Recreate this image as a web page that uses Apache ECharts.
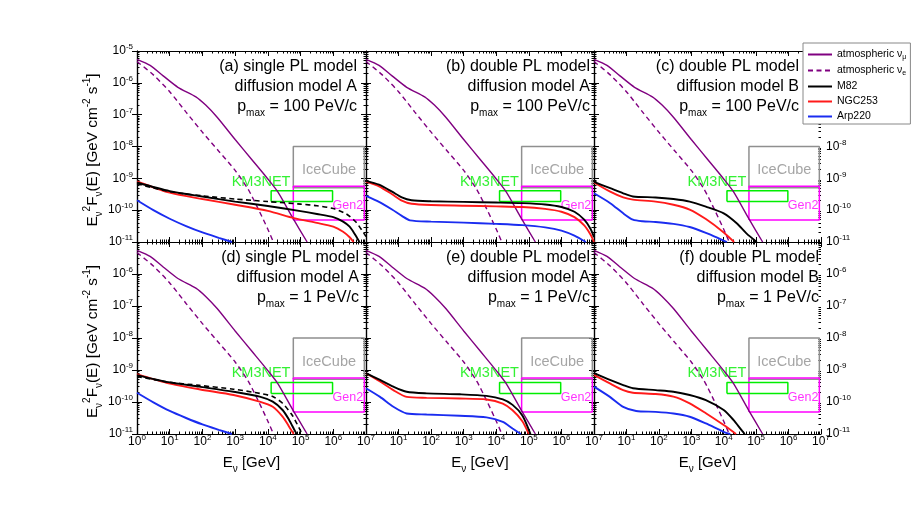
<!DOCTYPE html>
<html><head><meta charset="utf-8">
<script src="https://cdn.jsdelivr.net/npm/echarts@6/dist/echarts.min.js"></script>
<style>html,body{margin:0;padding:0;background:#fff}#c{width:913px;height:512px}</style>
</head><body><div id="c"></div>
<script>
const FF = '"Liberation Sans", Arial, Helvetica, sans-serif';

// ---- values: [log10(E / GeV), log10(E^2 F / GeV cm^-2 s^-1)] ----
const atmNuMu = [[0,-5.26],[0.4,-5.45],[0.8,-5.78],[1.25,-6.14],[1.8,-6.44],[2.1,-6.7],[2.45,-7.08],[3.0,-7.78],[3.5,-8.40],[4.0,-9.02],[4.3,-9.42],[4.77,-10.26],[5.2,-11.0]];
const atmNuE  = [[0,-5.33],[0.5,-5.75],[1.0,-6.28],[1.5,-6.92],[2.0,-7.55],[2.5,-8.15],[3.0,-8.75],[3.4,-9.35],[3.7,-9.95],[4.0,-10.6],[4.17,-11.0]];

// (a) single PL, diffusion A, pmax 100 PeV/c
const m82A    = [[0,-9.13],[1,-9.40],[2,-9.57],[3,-9.73],[4,-9.87],[5,-10.03],[5.5,-10.12],[6,-10.22],[6.3,-10.36],[6.5,-10.52],[6.65,-10.74],[6.8,-11.0]];
const m82dashA= [[0,-9.17],[1,-9.42],[2,-9.55],[3,-9.65],[4,-9.73],[5,-9.81],[5.5,-9.86],[6,-9.95],[6.4,-10.12],[6.7,-10.38],[7,-10.83]];
const ngcA    = [[0,-9.10],[1,-9.45],[2,-9.65],[3,-9.83],[4,-10.02],[4.8,-10.25],[5.5,-10.40],[6,-10.52],[6.3,-10.68],[6.5,-10.85],[6.62,-11.0]];
const arpA    = [[0,-9.69],[0.5,-10.0],[1,-10.27],[1.5,-10.5],[2,-10.7],[2.5,-10.87],[2.9,-11.0]];
// (b) double PL, diffusion A, pmax 100 PeV/c
const m82B = [[0,-9.08],[0.4,-9.2],[0.8,-9.42],[1.1,-9.6],[1.4,-9.69],[2,-9.72],[3,-9.74],[4,-9.76],[4.8,-9.78],[5.5,-9.82],[6,-9.9],[6.4,-10.05],[6.7,-10.3],[6.9,-10.6],[7,-10.85]];
const ngcB = [[0,-9.1],[0.4,-9.25],[0.8,-9.5],[1.1,-9.7],[1.4,-9.8],[2,-9.84],[3,-9.86],[4,-9.88],[4.8,-9.9],[5.5,-9.96],[6,-10.05],[6.4,-10.22],[6.7,-10.48],[6.9,-10.78],[7,-11.0]];
const arpB = [[0,-9.55],[0.4,-9.74],[0.8,-9.98],[1.1,-10.18],[1.35,-10.32],[2,-10.36],[3,-10.39],[4,-10.43],[4.8,-10.47],[5.5,-10.54],[6,-10.64],[6.4,-10.8],[6.75,-11.0]];
// (c) double PL, diffusion B, pmax 100 PeV/c
const m82C = [[0,-9.11],[0.5,-9.31],[0.9,-9.47],[1.2,-9.57],[1.9,-9.6],[2.45,-9.65],[2.95,-9.73],[3.45,-9.89],[4.0,-10.1],[4.4,-10.41],[4.7,-10.73],[5.02,-11.0]];
const ngcC = [[0,-9.13],[0.5,-9.42],[0.9,-9.6],[1.2,-9.67],[1.9,-9.73],[2.45,-9.83],[2.95,-9.98],[3.45,-10.28],[4.0,-10.7],[4.32,-11.0]];
const arpC = [[0,-9.47],[0.5,-9.78],[0.9,-10.1],[1.2,-10.3],[1.5,-10.35],[1.9,-10.37],[2.45,-10.43],[2.95,-10.53],[3.45,-10.71],[3.8,-10.86],[4.1,-11.0]];
// (d) single PL, diffusion A, pmax 1 PeV/c
const m82D    = [[0,-9.16],[0.9,-9.37],[1.9,-9.52],[2.95,-9.68],[3.75,-9.83],[4.15,-9.99],[4.45,-10.25],[4.65,-10.56],[4.8,-10.85],[4.88,-11.0]];
const m82dashD= [[0,-9.2],[0.9,-9.37],[1.9,-9.48],[2.95,-9.6],[3.75,-9.73],[4.15,-9.83],[4.45,-10.04],[4.75,-10.42],[4.95,-10.8],[5.05,-11.0]];
const ngcD    = [[0,-9.13],[0.9,-9.4],[1.9,-9.6],[2.95,-9.78],[3.75,-9.99],[4.15,-10.15],[4.45,-10.46],[4.65,-10.77],[4.79,-11.0]];
const arpD    = [[0,-9.71],[0.5,-10.01],[1,-10.28],[1.5,-10.5],[2,-10.7],[2.5,-10.87],[2.9,-11.0]];
// (e) double PL, diffusion A, pmax 1 PeV/c
const m82E = [[0,-9.10],[0.43,-9.31],[0.84,-9.52],[1.25,-9.68],[1.86,-9.73],[2.88,-9.76],[3.7,-9.81],[4.2,-9.92],[4.5,-10.09],[4.8,-10.42],[5.05,-11.0]];
const ngcE = [[0,-9.1],[0.43,-9.36],[0.84,-9.63],[1.25,-9.84],[1.86,-9.87],[2.88,-9.89],[3.7,-9.92],[4.2,-10.05],[4.5,-10.26],[4.8,-10.6],[5.0,-11.0]];
const arpE = [[0,-9.57],[0.43,-9.84],[0.84,-10.15],[1.25,-10.36],[1.86,-10.39],[2.88,-10.43],[3.7,-10.48],[4.2,-10.62],[4.5,-10.83],[4.75,-11.0]];
// (f) double PL, diffusion B, pmax 1 PeV/c
const m82F = [[0,-9.10],[0.49,-9.31],[0.9,-9.47],[1.2,-9.57],[1.9,-9.63],[2.45,-9.68],[2.95,-9.78],[3.45,-9.94],[4.0,-10.25],[4.3,-10.56],[4.55,-10.88],[4.65,-11.0]];
const ngcF = [[0,-9.15],[0.49,-9.42],[0.9,-9.63],[1.2,-9.71],[1.9,-9.75],[2.45,-9.83],[2.95,-10.04],[3.45,-10.35],[4.0,-10.72],[4.38,-11.0]];
const arpF = [[0,-9.52],[0.49,-9.84],[0.9,-10.15],[1.3,-10.28],[1.9,-10.31],[2.45,-10.36],[2.95,-10.46],[3.45,-10.67],[4.0,-10.93],[4.2,-11.0]];

// detector sensitivity boxes (E in GeV, flux in GeV cm^-2 s^-1)
const iceCubeBox = { E: [6.0e4, 8.9e6], F: [5.1e-10, 1.0e-8] };
const km3netBox  = { E: [1.26e4, 9.5e5], F: [1.86e-10, 4.07e-10] };
const gen2Box    = { E: [6.0e4, 8.9e6], F: [4.9e-11, 5.6e-10] };
const detectorLabels = [
  { name: 'IceCube', E: 7.4e5, F: 1.82e-9 },
  { name: 'KM3NET',  E: 6.2e3, F: 7.8e-10 },
  { name: 'Gen2',    E: 2.8e6, F: 1.35e-10 }
];

const panelTitles = ['(a) single PL model','(b) double PL model','(c) double PL model','(d) single PL model','(e) double PL model','(f) double PL model'];
const panelDiffusion = ['diffusion model A','diffusion model A','diffusion model B','diffusion model A','diffusion model A','diffusion model B'];
const panelPmax = ['100','100','100','1','1','1'];
const panelM82 = [m82A, m82B, m82C, m82D, m82E, m82F];
const panelNGC = [ngcA, ngcB, ngcC, ngcD, ngcE, ngcF];
const panelArp = [arpA, arpB, arpC, arpD, arpE, arpF];
const panelM82Dash = [m82dashA, null, null, m82dashD, null, null];

const legendNames = ['atmospheric νμ','atmospheric νe','M82','NGC253','Arp220'];

// ---- layout ----
const colX = [[137,229],[366,228],[594,227]];
const rowY = [[51,191],[242,192]];
const titleRight = [357,590,799,359,590,819];
const titleLineY = [[67,87,107],[258,278,298]];

const minorX = []; for (let d = 0; d < 7; d++) for (let k = 2; k < 10; k++) minorX.push(d + Math.log10(k));
const minorY = []; for (let d = -11; d < -5; d++) for (let k = 2; k < 10; k++) minorY.push(d + Math.log10(k));

const C = { purple:'#800080', black:'#000', red:'#ff1a1a', blue:'#1a2cf0', green:'#00ee00', magenta:'#ff00ff', grey:'#8f8f8f' };

const labelRich = {
  b: { fontSize: 12, lineHeight: 14, fontFamily: FF, color: '#000' },
  s: { fontSize: 8, height: 6, lineHeight: 6, verticalAlign: 'top', fontFamily: FF, color: '#000' }
};
function expFormatter(hide, minExp) {
  return function (v, i) {
    let e = v > 0 ? Math.round(Math.log10(v)) : minExp + i;
    if (hide.indexOf(e) >= 0) return '';
    return '{b|10}{s|' + e + '}';
  };
}
const toLin = arr => arr.map(p => [Math.pow(10, p[0]), Math.pow(10, p[1])]);

const axisLineStyle = { show: true, lineStyle: { color: '#000', width: 1.2 } };
const majorTick = { show: true, inside: true, length: 5, lineStyle: { color: '#000', width: 1 } };

const grids = [], xAxes = [], yAxes = [], series = [], graphics = [];

for (let g = 0; g < 6; g++) {
  const col = g % 3, row = Math.floor(g / 3);
  grids.push({ left: colX[col][0], width: colX[col][1], top: rowY[row][0], height: rowY[row][1] });
  const bottomRow = row === 1;
  // x axes
  xAxes.push({
    gridIndex: g, type: 'log', logBase: 10, min: 1, max: 1e7, position: 'bottom',
    axisLine: axisLineStyle, axisTick: majorTick, splitLine: { show: false }, minorTick: { show: false },
    axisLabel: { show: bottomRow, interval: 0, margin: 1, formatter: expFormatter(col === 0 ? [] : [0], 0), rich: labelRich },
    name: bottomRow ? '{m|E}{sb|ν}{m| [GeV]}' : '', nameLocation: 'middle', nameGap: 20,
    nameTextStyle: { rich: {
      m: { fontSize: 15, lineHeight: 18, fontFamily: FF, color: '#000' },
      sb: { fontSize: 10, height: 6, lineHeight: 6, verticalAlign: 'bottom', fontFamily: FF, color: '#000' } } }
  });
  xAxes.push({ gridIndex: g, type: 'log', logBase: 10, min: 1, max: 1e7, position: 'top',
    axisLine: axisLineStyle, axisTick: majorTick, splitLine: { show: false }, axisLabel: { show: false } });
  xAxes.push({ gridIndex: g, type: 'value', min: 0, max: 7, position: 'bottom',
    axisLine: { show: false }, axisTick: { show: true, inside: true, length: 2.5, customValues: minorX, lineStyle: { color: '#000', width: 1 } },
    splitLine: { show: false }, axisLabel: { show: false } });
  xAxes.push({ gridIndex: g, type: 'value', min: 0, max: 7, position: 'top',
    axisLine: { show: false }, axisTick: { show: true, inside: true, length: 2.5, customValues: minorX, lineStyle: { color: '#000', width: 1 } },
    splitLine: { show: false }, axisLabel: { show: false } });
  // y axes
  yAxes.push({
    gridIndex: g, type: 'log', logBase: 10, min: 1e-11, max: 1e-5, position: 'left',
    axisLine: axisLineStyle, axisTick: majorTick, splitLine: { show: false }, minorTick: { show: false },
    axisLabel: { show: col === 0, interval: 0, margin: 4, formatter: expFormatter(row === 0 ? [] : [-5], -11), rich: labelRich },
    name: col === 0 ? '{m|E}{sb|ν}{sp|2}{m|F}{sb|ν}{m|(E) [GeV cm}{sp|-2}{m| s}{sp|-1}{m|]}{w| }' : '',
    nameLocation: 'middle', nameRotate: 90, nameGap: 29,
    nameTextStyle: { rich: {
      m: { fontSize: 15.3, lineHeight: 18, fontFamily: FF, color: '#000' },
      sb: { fontSize: 10, height: 6, lineHeight: 6, verticalAlign: 'bottom', fontFamily: FF, color: '#000' },
      sp: { fontSize: 10, height: 6, lineHeight: 6, verticalAlign: 'top', fontFamily: FF, color: '#000' },
      w: { fontSize: 10, width: 7, lineHeight: 6 } } }
  });
  yAxes.push({
    gridIndex: g, type: 'log', logBase: 10, min: 1e-11, max: 1e-5, position: 'right',
    axisLine: axisLineStyle, axisTick: majorTick, splitLine: { show: false },
    axisLabel: { show: col === 2, interval: 0, margin: 5, formatter: expFormatter(row === 0 ? [-5,-6,-7] : [-5], -11), rich: labelRich }
  });
  yAxes.push({ gridIndex: g, type: 'value', min: -11, max: -5, position: 'left',
    axisLine: { show: false }, axisTick: { show: true, inside: true, length: 2.5, customValues: minorY, lineStyle: { color: '#000', width: 1 } },
    splitLine: { show: false }, axisLabel: { show: false } });
  yAxes.push({ gridIndex: g, type: 'value', min: -11, max: -5, position: 'right',
    axisLine: { show: false }, axisTick: { show: true, inside: true, length: 2.5, customValues: minorY, lineStyle: { color: '#000', width: 1 } },
    splitLine: { show: false }, axisLabel: { show: false } });

  const xi = 4 * g, yi = 4 * g;
  const boxSeries = (name, b, color) => ({
    type: 'line', name, xAxisIndex: xi, yAxisIndex: yi, silent: true, symbol: 'none', smooth: false,
    data: [[b.E[0], b.F[0]], [b.E[1], b.F[0]], [b.E[1], b.F[1]], [b.E[0], b.F[1]], [b.E[0], b.F[0]]],
    lineStyle: { color, width: 1.5 }, itemStyle: { color }, z: 2
  });
  series.push(boxSeries('IceCube', iceCubeBox, C.grey));
  series.push(boxSeries('Gen2', gen2Box, C.magenta));
  series.push(boxSeries('KM3NET', km3netBox, C.green));
  series.push({
    type: 'scatter', name: 'detector labels', xAxisIndex: xi, yAxisIndex: yi, silent: true, symbolSize: 0, z: 3,
    data: detectorLabels.map(d => ({ name: d.name, value: [d.E, d.F],
      label: { color: d.name === 'IceCube' ? C.grey : (d.name === 'KM3NET' ? C.green : C.magenta), fontSize: d.name === 'Gen2' ? 12.5 : 14.5 } })),
    label: { show: true, position: 'inside', formatter: '{b}', fontFamily: FF }
  });
  const curve = (name, data, color, width, dash) => ({
    type: 'line', name, xAxisIndex: xi, yAxisIndex: yi, silent: true, symbol: 'none', showSymbol: false,
    smooth: 0.25, data: toLin(data),
    lineStyle: { color, width, type: dash ? [5, 3.5] : 'solid' }, itemStyle: { color }, z: 4
  });
  series.push(curve('atmospheric νμ', atmNuMu, C.purple, 1.4, false));
  series.push(curve('atmospheric νe', atmNuE, C.purple, 1.4, true));
  series.push(curve('Arp220', panelArp[g], C.blue, 1.9, false));
  series.push(curve('NGC253', panelNGC[g], C.red, 1.9, false));
  if (panelM82Dash[g]) series.push(curve('M82 (dashed)', panelM82Dash[g], C.black, 1.6, true));
  series.push(curve('M82', panelM82[g], C.black, 1.9, false));

  // panel titles
  const tRich = {
    m: { fontSize: 16, lineHeight: 18, fontFamily: FF, fill: '#000', color: '#000' },
    s: { fontSize: 10, height: 6, lineHeight: 6, verticalAlign: 'bottom', fontFamily: FF, fill: '#000', color: '#000' }
  };
  const lines = [
    '{m|' + panelTitles[g] + '}',
    '{m|' + panelDiffusion[g] + '}',
    '{m|p}{s|max}{m| = ' + panelPmax[g] + ' PeV/c}'
  ];
  lines.forEach((t, k) => {
    graphics.push({ type: 'text', x: titleRight[g], y: titleLineY[row][k], z: 20, silent: true,
      style: { text: t, align: 'right', verticalAlign: 'middle', fontSize: 16, fontFamily: FF, fill: '#000', rich: tRich } });
  });
}

const legendFmt = {
  'atmospheric νμ': 'atmospheric ν{s|μ}',
  'atmospheric νe': 'atmospheric ν{s|e}',
  'M82': 'M82', 'NGC253': 'NGC253', 'Arp220': 'Arp220'
};

const option = {
  animation: false,
  backgroundColor: '#fff',
  grid: grids, xAxis: xAxes, yAxis: yAxes, series,
  legend: {
    data: legendNames, orient: 'vertical', left: 803, top: 43, padding: [6, 4, 2, 4], itemGap: 4,
    itemWidth: 24, itemHeight: 10, selectedMode: false, backgroundColor: '#fff', borderColor: '#888', borderWidth: 1, z: 10,
    itemStyle: { color: 'rgba(0,0,0,0)', borderWidth: 0, opacity: 0 },
    formatter: n => legendFmt[n],
    textStyle: { fontSize: 10.5, fontFamily: FF, color: '#000', rich: {
      s: { fontSize: 7, height: 5, lineHeight: 5, verticalAlign: 'bottom', fontFamily: FF, color: '#000' } } }
  },
  graphic: graphics
};
const chart = echarts.init(document.getElementById('c'), null, { renderer: 'canvas' });
chart.setOption(option);
</script></body></html>
